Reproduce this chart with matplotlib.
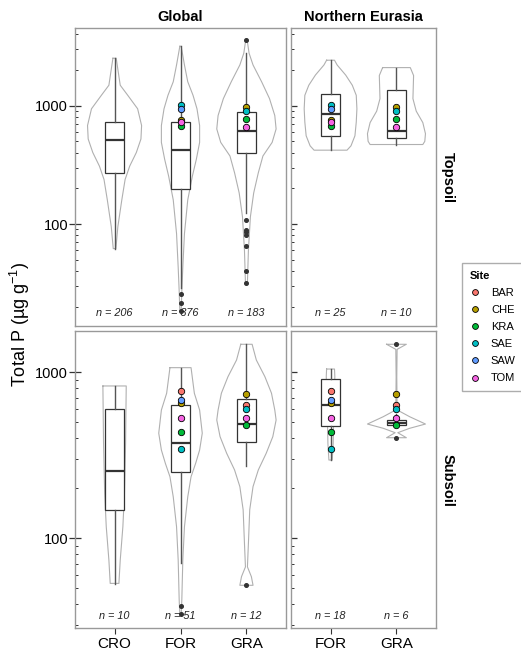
import matplotlib
matplotlib.use('Agg')
import matplotlib.pyplot as plt
from matplotlib.lines import Line2D
from matplotlib.ticker import LogLocator, NullFormatter
import numpy as np

plt.rcParams['font.family'] = ['Liberation Sans', 'DejaVu Sans']
plt.rcParams['mathtext.fontset'] = 'custom'
plt.rcParams['mathtext.rm'] = 'Liberation Sans'
plt.rcParams['mathtext.it'] = 'Liberation Sans:italic'
plt.rcParams['mathtext.bf'] = 'Liberation Sans:bold'

# ---------------- data ----------------
sites = ['BAR', 'CHE', 'KRA', 'SAE', 'SAW', 'TOM']
site_colors = ['#F8766D', '#B79F00', '#00BA38', '#00BFC4', '#619CFF', '#F564E3']

cats_global = ['CRO', 'FOR', 'GRA']
cats_ne = ['FOR', 'GRA']
rows = ['Topsoil', 'Subsoil']
cols = ['Global', 'Northern Eurasia']

n_top_global = [206, 376, 183]
n_top_ne = [25, 10]
n_sub_global = [10, 51, 12]
n_sub_ne = [18, 6]

# box stats: [whislo, q1, median, q3, whishi]
box_top_global = [[62, 271, 518, 735, 2520], [29, 198, 424, 725, 3180], [123, 397, 615, 884, 2780]]
box_top_ne = [[421, 551, 854, 1267, 2425], [470, 536, 615, 1370, 2100]]
box_sub_global = [[53, 147, 254, 598, 824], [70.5, 249, 373, 630, 1062], [272, 377, 488, 687, 1469]]
box_sub_ne = [[295, 473, 635, 903, 1042], [470, 482, 496, 512, 560]]

out_top_global = [[], [25.6, 21.7, 18.4], [3610, 108, 89, 85, 80.6, 65, 40, 32]]
out_top_ne = [[], []]
out_sub_global = [[], [39, 34.8], [51.9]]
out_sub_ne = [[], [1469, 402]]

# violin outlines: values (ug/g) and relative half-widths
vt_g_cro_v = [2520, 1490, 1225, 942, 680, 523, 402, 309, 238, 160, 95, 62]
vt_g_cro_w = [0.025, 0.086, 0.20, 0.35, 0.41, 0.40, 0.33, 0.23, 0.16, 0.11, 0.05, 0.02]
vt_g_for_v = [3180, 2210, 1595, 1225, 942, 680, 490, 352, 254, 160, 83, 43, 27, 18.4]
vt_g_for_w = [0.01, 0.06, 0.11, 0.19, 0.25, 0.29, 0.29, 0.24, 0.18, 0.11, 0.06, 0.035, 0.02, 0.01]
vt_g_gra_v = [3610, 2780, 2210, 1595, 1148, 826, 636, 490, 376, 271, 183, 115, 60, 32]
vt_g_gra_w = [0.01, 0.04, 0.10, 0.23, 0.35, 0.43, 0.45, 0.39, 0.25, 0.18, 0.11, 0.06, 0.03, 0.015]
vt_n_for_v = [2425, 2210, 1815, 1490, 1225, 942, 726, 557, 458, 421]
vt_n_for_w = [0.06, 0.10, 0.23, 0.33, 0.39, 0.40, 0.39, 0.37, 0.31, 0.25]
vt_n_gra_v = [2100, 1800, 1148, 900, 720, 580, 500, 470]
vt_n_gra_w = [0.21, 0.26, 0.25, 0.30, 0.40, 0.44, 0.43, 0.40]

vs_g_cro_v = [824, 371, 186, 117, 73.6, 53.3]
vs_g_cro_w = [0.177, 0.167, 0.15, 0.126, 0.086, 0.066]
vs_g_for_v = [1062, 745, 590, 428, 339, 282, 234, 177, 117, 73.6, 42.4, 34.4]
vs_g_for_w = [0.16, 0.21, 0.29, 0.33, 0.29, 0.23, 0.16, 0.11, 0.06, 0.035, 0.02, 0.01]
vs_g_gra_v = [1469, 1181, 937, 745, 590, 514, 408, 324, 257, 204, 148, 93, 67, 58.5, 51.9]
vs_g_gra_w = [0.086, 0.15, 0.28, 0.38, 0.43, 0.45, 0.40, 0.30, 0.18, 0.10, 0.05, 0.03, 0.015, 0.075, 0.10]
vs_n_for_v = [1042, 937, 590, 371, 295]
vs_n_for_w = [0.06, 0.065, 0.05, 0.04, 0.025]
vs_n_gra_v = [1469, 1369, 937, 591, 538, 486, 458, 431, 402]
vs_n_gra_w = [0.15, 0.01, 0.005, 0.01, 0.20, 0.44, 0.20, 0.02, 0.15]

# site values, order BAR, CHE, KRA, SAE, SAW, TOM (nan = absent)
nan = np.nan
site_top_for = [nan, 764, 670, 1020, 930, 726]
site_top_gra = [nan, 974, 774, 901, nan, 665]
site_sub_for = [769, 653, 436, 345, 675, 528]
site_sub_gra = [632, 740, 482, 596, nan, 526]

# ---------------- figure ----------------
W, H = 521, 652
fig = plt.figure(figsize=(W / 100, H / 100), dpi=100)


def ax_at(x0, y0, x1, y1):
    return fig.add_axes([x0 / W, 1 - y1 / H, (x1 - x0) / W, (y1 - y0) / H])


FRAME = '#999999'


def draw_panel(ax, cats, violins, boxes, outliers, ns, sites_by_cat, ylim, show_y, show_x, n_y):
    positions = np.arange(1, len(cats) + 1)
    for pos, (vals, hw) in zip(positions, violins):
        vals = np.asarray(vals, float)
        hw = np.asarray(hw, float)
        xs = np.concatenate([pos - hw, (pos + hw)[::-1], [pos - hw[0]]])
        ys = np.concatenate([vals, vals[::-1], [vals[0]]])
        ax.plot(xs, ys, color='#b0b0b0', lw=0.8, zorder=1)
    stats = []
    for b, o in zip(boxes, outliers):
        stats.append(dict(whislo=b[0], q1=b[1], med=b[2], q3=b[3], whishi=b[4], fliers=o))
    ax.bxp(stats, positions=positions, widths=0.3, showcaps=False, showfliers=True,
           patch_artist=True,
           boxprops=dict(facecolor='white', edgecolor='#333333', lw=0.9),
           medianprops=dict(color='#333333', lw=1.6),
           whiskerprops=dict(color='#555555', lw=1.0),
           flierprops=dict(marker='o', markersize=2.6, markerfacecolor='#333333',
                           markeredgecolor='#333333', lw=0),
           zorder=2)
    for pos, cat in zip(positions, cats):
        vals = sites_by_cat.get(cat)
        if vals is None:
            continue
        for s, c, v in zip(sites, site_colors, vals):
            if np.isnan(v):
                continue
            ax.plot([pos], [v], 'o', ms=4.6, mfc=c, mec='black', mew=0.6, zorder=4)
    for pos, n in zip(positions, ns):
        ax.text(pos, n_y, f'n = {n}', transform=ax.get_xaxis_transform(),
                ha='center', va='center', fontsize=7.8, style='italic', color='#222222', zorder=5)
    ax.set_yscale('log')
    ax.set_ylim(*ylim)
    ax.set_xlim(0.4, len(cats) + 0.6)
    ax.set_yticks([100, 1000])
    ax.yaxis.set_minor_locator(LogLocator(base=10, subs=np.arange(2, 10)))
    ax.yaxis.set_minor_formatter(NullFormatter())
    if show_y:
        ax.set_yticklabels(['100', '1000'])
        ax.tick_params(axis='y', which='major', direction='inout', length=8, width=0.9,
                       color='#333333', labelsize=10.5, pad=1)
    else:
        ax.set_yticklabels([])
        ax.tick_params(axis='y', which='major', direction='in', length=4.5, width=0.9,
                       color='#333333')
    ax.tick_params(axis='y', which='minor', direction='in', length=2, width=0.7, color='#333333')
    if show_x:
        ax.set_xticks(positions)
        ax.set_xticklabels(cats)
        ax.tick_params(axis='x', direction='out', length=4, width=0.8, color='#333333',
                       labelsize=11, pad=2.5)
    else:
        ax.set_xticks([])
    for sp in ax.spines.values():
        sp.set_color(FRAME)
        sp.set_linewidth(1.0)


ylim_top = (10 ** 1.138, 10 ** 3.657)
ylim_sub = (10 ** 1.458, 10 ** 3.247)

ax1 = ax_at(75, 28, 286, 326)
draw_panel(ax1, cats_global,
           [(vt_g_cro_v, vt_g_cro_w), (vt_g_for_v, vt_g_for_w), (vt_g_gra_v, vt_g_gra_w)],
           box_top_global, out_top_global, n_top_global,
           {'FOR': site_top_for, 'GRA': site_top_gra}, ylim_top, True, False, 0.044)
ax2 = ax_at(291, 28, 436, 326)
draw_panel(ax2, cats_ne,
           [(vt_n_for_v, vt_n_for_w), (vt_n_gra_v, vt_n_gra_w)],
           box_top_ne, out_top_ne, n_top_ne,
           {'FOR': site_top_for, 'GRA': site_top_gra}, ylim_top, False, False, 0.044)
ax3 = ax_at(75, 331, 286, 628)
draw_panel(ax3, cats_global,
           [(vs_g_cro_v, vs_g_cro_w), (vs_g_for_v, vs_g_for_w), (vs_g_gra_v, vs_g_gra_w)],
           box_sub_global, out_sub_global, n_sub_global,
           {'FOR': site_sub_for, 'GRA': site_sub_gra}, ylim_sub, True, True, 0.04)
ax4 = ax_at(291, 331, 436, 628)
draw_panel(ax4, cats_ne,
           [(vs_n_for_v, vs_n_for_w), (vs_n_gra_v, vs_n_gra_w)],
           box_sub_ne, out_sub_ne, n_sub_ne,
           {'FOR': site_sub_for, 'GRA': site_sub_gra}, ylim_sub, False, True, 0.04)

# strip labels
fig.text((75 + 286) / 2 / W, 1 - 17 / H, cols[0], ha='center', va='center',
         fontsize=10.5, fontweight='bold')
fig.text((291 + 436) / 2 / W, 1 - 17 / H, cols[1], ha='center', va='center',
         fontsize=10.5, fontweight='bold')
fig.text(448 / W, 1 - 177 / H, rows[0], ha='center', va='center', rotation=270,
         fontsize=10.5, fontweight='bold')
fig.text(448 / W, 1 - 480 / H, rows[1], ha='center', va='center', rotation=270,
         fontsize=10.5, fontweight='bold')

# y label
fig.text(20 / W, 1 - 324 / H, 'Total P (µg g$^{-1}$)', ha='center', va='center',
         rotation=90, fontsize=13)

# legend
handles = [Line2D([], [], marker='o', ls='none', ms=4.2, mfc=c, mec='black', mew=0.6)
           for c in site_colors]
leg = fig.legend(handles, sites, title='Site', loc='upper left',
                 bbox_to_anchor=(462 / W, 1 - 263 / H), fontsize=8, title_fontsize=8,
                 frameon=True, fancybox=False, edgecolor=FRAME, borderpad=0.7,
                 borderaxespad=0, handlelength=1.0, handletextpad=0.9, labelspacing=0.64,
                 alignment='left')
leg.get_title().set_fontweight('bold')
leg.get_frame().set_linewidth(1.0)

fig.savefig('out.png', dpi=100)
